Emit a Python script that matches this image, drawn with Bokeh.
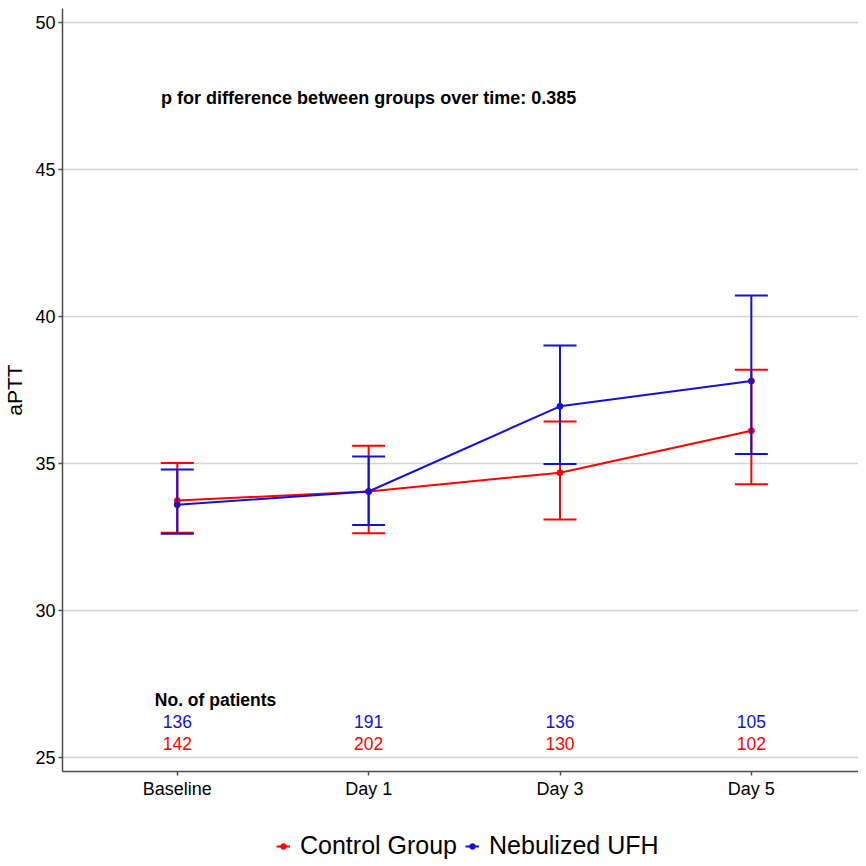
from bokeh.plotting import figure
from bokeh.models import (ColumnDataSource, Whisker, TeeHead, Range1d, FixedTicker,
                          Legend, LegendItem)
from bokeh.layouts import column
from bokeh.core.properties import value
from bokeh.embed import file_html
from bokeh.resources import INLINE

categories = ["Baseline", "Day 1", "Day 3", "Day 5"]
control_mean = [33.74, 34.05, 34.69, 36.12]
control_lower = [32.65, 32.63, 33.10, 34.30]
control_upper = [35.02, 35.61, 36.43, 38.19]
ufh_mean = [33.60, 34.05, 36.95, 37.81]
ufh_lower = [32.61, 32.91, 34.99, 35.33]
ufh_upper = [34.80, 35.24, 39.02, 40.72]
control_n = [142, 202, 130, 102]
ufh_n = [136, 191, 136, 105]
y_ticks = [25, 30, 35, 40, 45, 50]
p_text = "p for difference between groups over time: 0.385"
n_title = "No. of patients"
series_names = ["Control Group", "Nebulized UFH"]

RED = "#FF0000"
BLUE = "#1212D4"
FONT = "Liberation Sans"

xs = list(range(1, len(categories) + 1))

p = figure(width=858, height=821, output_backend="svg", toolbar_location=None,
           x_range=Range1d(0.4, 4.56), y_range=Range1d(24.52, 50.49),
           min_border_left=0, min_border_right=0, min_border_top=8, min_border_bottom=50)
p.outline_line_color = None
p.background_fill_color = "white"
p.border_fill_color = "white"

p.xgrid.grid_line_color = None
p.ygrid.grid_line_color = "#d4d4d4"
p.ygrid.grid_line_width = 1.5
p.ygrid.ticker = FixedTicker(ticks=y_ticks)

p.yaxis.ticker = FixedTicker(ticks=y_ticks)
p.xaxis.ticker = FixedTicker(ticks=xs)
p.xaxis.major_label_overrides = {x: c for x, c in zip(xs, categories)}
for ax in (p.xaxis[0], p.yaxis[0]):
    ax.axis_line_color = "#4d4d4d"
    ax.axis_line_width = 1.5
    ax.major_tick_line_color = "#4d4d4d"
    ax.major_tick_line_width = 1.5
    ax.major_tick_out = 4
    ax.major_tick_in = 0
    ax.minor_tick_line_color = None
    ax.major_label_text_font = FONT
    ax.major_label_text_font_size = "18px"
    ax.major_label_text_color = "black"
    ax.major_label_standoff = 3
p.yaxis.axis_label = "aPTT"
p.yaxis.axis_label_text_font = FONT
p.yaxis.axis_label_text_font_size = "21px"
p.yaxis.axis_label_text_font_style = "normal"
p.yaxis.axis_label_text_color = "black"
p.yaxis.axis_label_standoff = 6

# legend figure
lg = figure(width=858, height=40, output_backend="svg", toolbar_location=None,
            x_range=Range1d(0, 1), y_range=Range1d(0, 1),
            min_border_left=0, min_border_right=0, min_border_top=0, min_border_bottom=0)
lg.axis.visible = False
lg.grid.visible = False
lg.outline_line_color = None

items = []
for name, mean, lo, hi, col in [(series_names[0], control_mean, control_lower, control_upper, RED),
                                (series_names[1], ufh_mean, ufh_lower, ufh_upper, BLUE)]:
    src = ColumnDataSource(dict(x=xs, mean=mean, lower=lo, upper=hi))
    w = Whisker(base="x", upper="upper", lower="lower", source=src,
                line_color=col, line_width=2,
                upper_head=TeeHead(size=33, line_color=col, line_width=2),
                lower_head=TeeHead(size=33, line_color=col, line_width=2),
                level="glyph")
    p.add_layout(w)
    p.line("x", "mean", source=src, line_color=col, line_width=2)
    p.scatter("x", "mean", source=src, size=6, fill_color=col, line_color=col)
    # legend key renderers (placed outside the visible range of the legend strip)
    l2 = lg.line(x=[-5, -4], y=[-5, -5], line_color=col, line_width=2)
    s2 = lg.scatter(x=[-5], y=[-5], size=6, fill_color=col, line_color=col)
    items.append(LegendItem(label=name, renderers=[l2, s2]))

p.text(x=[2.0], y=[47.43], text=[p_text], text_font=value(FONT), text_font_style="bold",
       text_font_size="18px", text_align="center", text_baseline="middle", text_color="black")
p.text(x=[1.2], y=[26.97], text=[n_title], text_font=value(FONT), text_font_style="bold",
       text_font_size="17.5px", text_align="center", text_baseline="middle", text_color="black")
p.text(x=xs, y=[26.22] * len(xs), text=[str(n) for n in ufh_n], text_font=value(FONT),
       text_font_size="17.5px", text_align="center", text_baseline="middle", text_color=BLUE)
p.text(x=xs, y=[25.48] * len(xs), text=[str(n) for n in control_n], text_font=value(FONT),
       text_font_size="17.5px", text_align="center", text_baseline="middle", text_color=RED)

legend = Legend(items=items, orientation="horizontal", location=(214, 1),
                label_text_font=FONT, label_text_font_size="25px", label_text_color="black",
                glyph_width=14, glyph_height=14, spacing=8, label_standoff=10,
                padding=2, margin=0, border_line_color=None, background_fill_alpha=0)
lg.add_layout(legend)

open("out.html", "w").write(file_html(column(p, lg, spacing=0), INLINE))
